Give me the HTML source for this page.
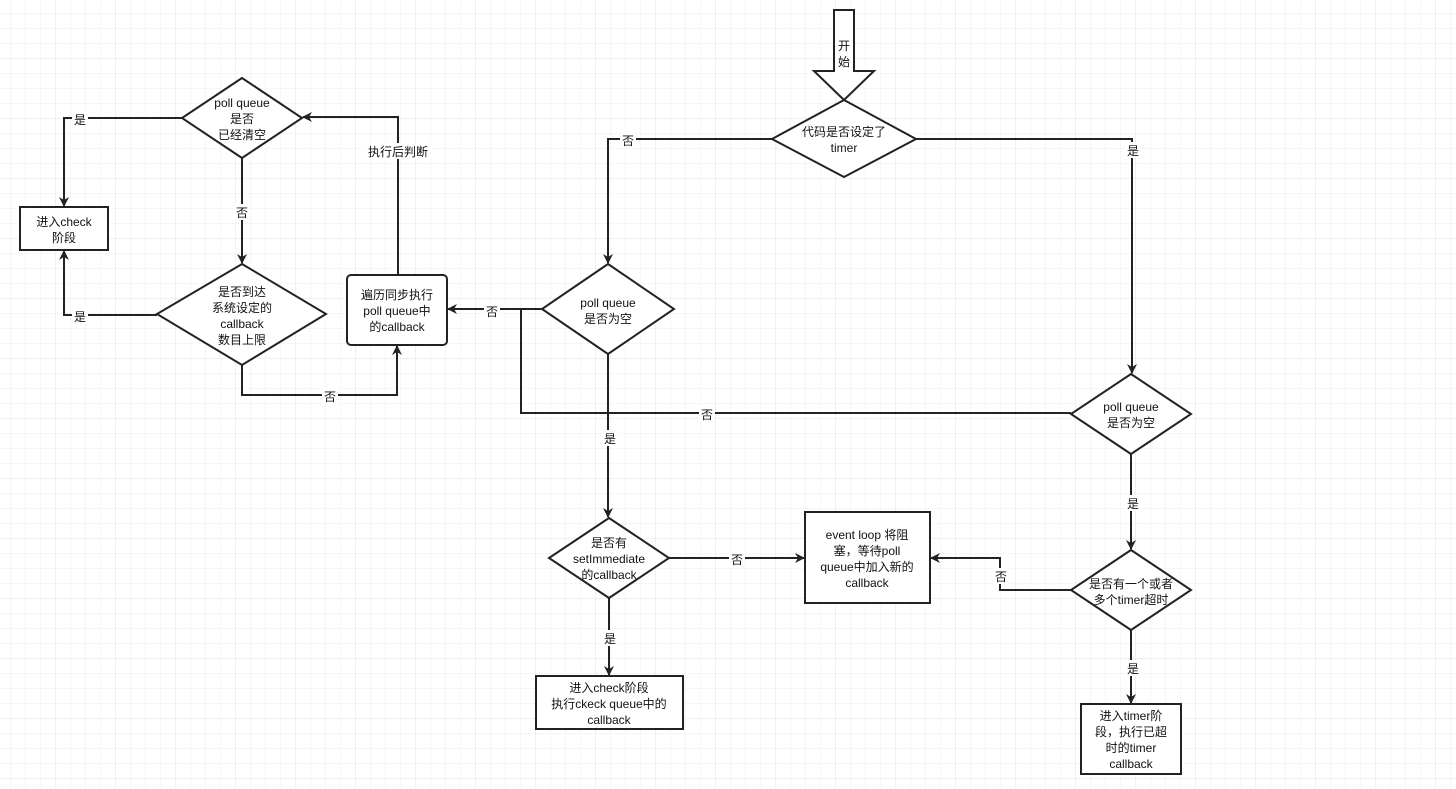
<!DOCTYPE html>
<html><head><meta charset="utf-8"><style>
html,body{margin:0;padding:0;background:#fff}
svg{display:block}
text{font-family:"Liberation Sans","Noto Sans CJK SC",sans-serif;font-size:12px;fill:#111;text-anchor:middle}
</style></head><body>
<svg width="1456" height="789" viewBox="0 0 1456 789" xmlns="http://www.w3.org/2000/svg">
<defs>
<pattern id="g" x="10" y="13" width="15" height="15" patternUnits="userSpaceOnUse">
<path d="M0 0H15M0 0V15" stroke="#ececec" stroke-width="1" fill="none"/>
</pattern>
<pattern id="G" x="55" y="58" width="60" height="60" patternUnits="userSpaceOnUse">
<path d="M0 0H60M0 0V60" stroke="#e0e0e0" stroke-width="1" fill="none"/>
</pattern>
<marker id="a" markerWidth="10" markerHeight="10" refX="9" refY="5" orient="auto" markerUnits="userSpaceOnUse">
<path d="M0,0 L10,5 L0,10 L3,5 Z" fill="#222"/>
</marker>
</defs>
<rect width="1456" height="789" fill="url(#g)"/>
<rect width="1456" height="789" fill="url(#G)"/>
<g stroke="#222" stroke-width="2" fill="none">
<!-- start arrow -->
<path d="M834,10 H854 V71 H874 L844,100 L814,71 H834 Z" fill="#fff"/>
<!-- connectors -->
<path d="M772,139 H608 V263" marker-end="url(#a)"/>
<path d="M916,139 H1132 V373" marker-end="url(#a)"/>
<path d="M542,309 H448" marker-end="url(#a)"/>
<path d="M608,354 V517" marker-end="url(#a)"/>
<path d="M1071,413 H521 V309"/>
<path d="M1131,454 V549" marker-end="url(#a)"/>
<path d="M1071,590 H1000 V558 H931" marker-end="url(#a)"/>
<path d="M1131,630 V703" marker-end="url(#a)"/>
<path d="M669,558 H804" marker-end="url(#a)"/>
<path d="M609,598 V675" marker-end="url(#a)"/>
<path d="M398,275 V117 H303" marker-end="url(#a)"/>
<path d="M182,118 H64 V206" marker-end="url(#a)"/>
<path d="M242,158 V263" marker-end="url(#a)"/>
<path d="M157,315 H64 V251" marker-end="url(#a)"/>
<path d="M242,365 V395 H397 V346" marker-end="url(#a)"/>
<!-- shapes -->
<path d="M844,100 L916,139 L844,177 L772,139 Z" fill="#fff"/>
<path d="M608,264 L674,309 L608,354 L542,309 Z" fill="#fff"/>
<path d="M1131,374 L1191,414 L1131,454 L1071,414 Z" fill="#fff"/>
<path d="M1131,550 L1191,590 L1131,630 L1071,590 Z" fill="#fff"/>
<path d="M609,518 L669,558 L609,598 L549,558 Z" fill="#fff"/>
<path d="M242,78 L302,118 L242,158 L182,118 Z" fill="#fff"/>
<path d="M242,264 L326,314 L242,365 L157,314 Z" fill="#fff"/>
<rect x="1081" y="704" width="100" height="70" fill="#fff"/>
<rect x="805" y="512" width="125" height="91" fill="#fff"/>
<rect x="536" y="676" width="147" height="53" fill="#fff"/>
<rect x="347" y="275" width="100" height="70" rx="4" fill="#fff"/>
<rect x="20" y="207" width="88" height="43" fill="#fff"/>
</g>
<!-- label backgrounds -->
<g fill="#fff">
<rect x="620" y="132" width="16" height="16"/><rect x="1125" y="142" width="16" height="16"/>
<rect x="484" y="303" width="16" height="16"/><rect x="602" y="430" width="16" height="16"/>
<rect x="699" y="406" width="16" height="16"/><rect x="1125" y="495" width="16" height="16"/>
<rect x="993" y="568" width="16" height="16"/><rect x="1125" y="660" width="16" height="16"/>
<rect x="729" y="551" width="16" height="16"/><rect x="602" y="630" width="16" height="16"/>
<rect x="364" y="143" width="68" height="16"/><rect x="72" y="111" width="16" height="16"/>
<rect x="234" y="204" width="16" height="16"/><rect x="72" y="308" width="16" height="16"/>
<rect x="322" y="388" width="16" height="16"/>
</g>
<text x="844" y="50">开</text><text x="844" y="66">始</text>
<text x="844" y="136">代码是否设定了</text><text x="844" y="152">timer</text>
<text x="608" y="307">poll queue</text><text x="608" y="323">是否为空</text>
<text x="1131" y="411">poll queue</text><text x="1131" y="427">是否为空</text>
<text x="1131" y="588">是否有一个或者</text><text x="1131" y="604">多个timer超时</text>
<text x="609" y="547">是否有</text><text x="609" y="563">setImmediate</text><text x="609" y="579">的callback</text>
<text x="242" y="107">poll queue</text><text x="242" y="123">是否</text><text x="242" y="139">已经清空</text>
<text x="242" y="296">是否到达</text><text x="242" y="312">系统设定的</text><text x="242" y="328">callback</text><text x="242" y="344">数目上限</text>
<text x="1131" y="720">进入timer阶</text><text x="1131" y="736">段，执行已超</text><text x="1131" y="752">时的timer</text><text x="1131" y="768">callback</text>
<text x="867" y="539">event loop 将阻</text><text x="867" y="555">塞，等待poll</text><text x="867" y="571">queue中加入新的</text><text x="867" y="587">callback</text>
<text x="609" y="692">进入check阶段</text><text x="609" y="708">执行ckeck queue中的</text><text x="609" y="724">callback</text>
<text x="397" y="299">遍历同步执行</text><text x="397" y="315">poll queue中</text><text x="397" y="331">的callback</text>
<text x="64" y="226">进入check</text><text x="64" y="242">阶段</text>
<text x="628" y="145">否</text><text x="1133" y="155">是</text>
<text x="492" y="316">否</text><text x="610" y="443">是</text>
<text x="707" y="419">否</text><text x="1133" y="508">是</text>
<text x="1001" y="581">否</text><text x="1133" y="673">是</text>
<text x="737" y="564">否</text><text x="610" y="643">是</text>
<text x="398" y="156">执行后判断</text><text x="80" y="124">是</text>
<text x="242" y="217">否</text><text x="80" y="321">是</text>
<text x="330" y="401">否</text>
</svg>
</body></html>
